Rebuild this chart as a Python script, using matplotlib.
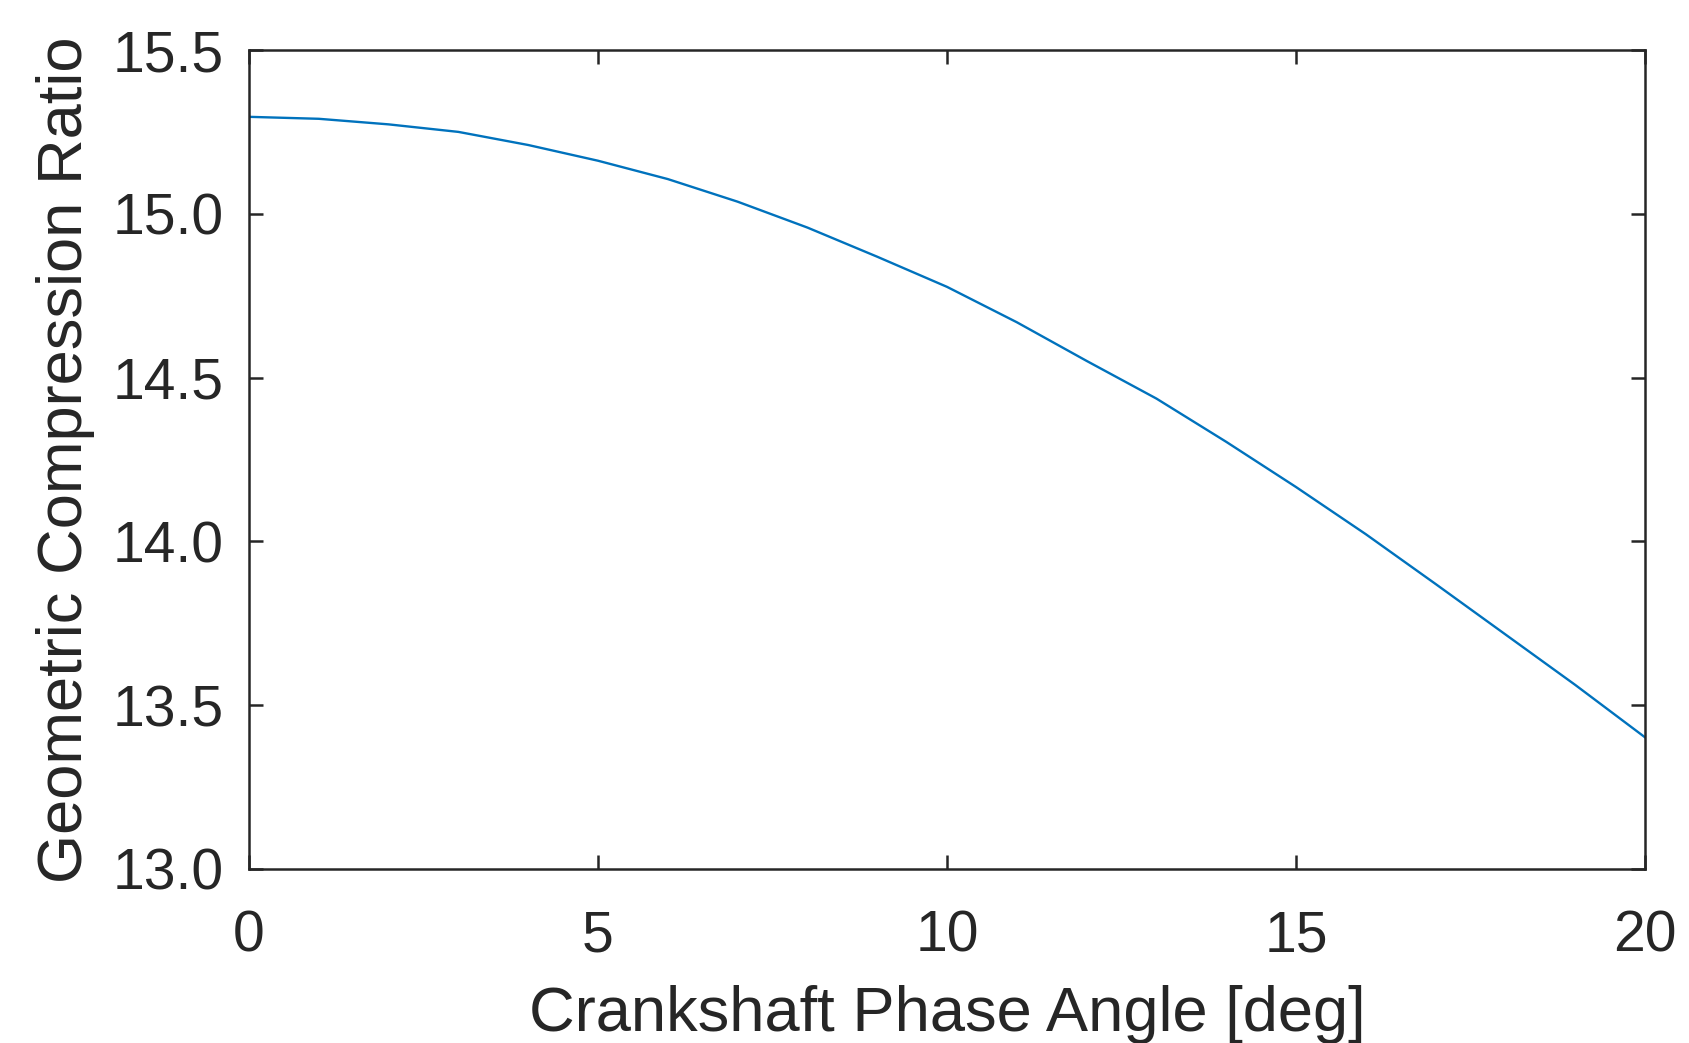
import matplotlib
matplotlib.use("Agg")
import matplotlib.pyplot as plt

# Crankshaft phase angle [deg] and resulting geometric compression ratio
phase_angle = [0, 1, 2, 3, 4, 5, 6, 7, 8, 9, 10,
               11, 12, 13, 14, 15, 16, 17, 18, 19, 20]
compression_ratio = [15.296, 15.290, 15.273, 15.250, 15.210, 15.162, 15.106,
                     15.037, 14.958, 14.869, 14.777, 14.669, 14.551, 14.436,
                     14.304, 14.166, 14.022, 13.870, 13.716, 13.562, 13.402]

x_ticks = [0, 5, 10, 15, 20]
y_ticks = [13.0, 13.5, 14.0, 14.5, 15.0, 15.5]

plt.rcParams["font.family"] = ["Liberation Sans", "DejaVu Sans"]
ink = "#262626"

fig = plt.figure(figsize=(16.89, 10.43), dpi=100)
ax = fig.add_axes([249 / 1689, 1 - 869 / 1043, 1396 / 1689, 819 / 1043])

ax.plot(phase_angle, compression_ratio, color="#0072BD", linewidth=1.7)

ax.set_xlim(0, 20)
ax.set_ylim(13.0, 15.5)
ax.set_xticks(x_ticks)
ax.set_xticklabels([str(t) for t in x_ticks])
ax.set_yticks(y_ticks)
ax.set_yticklabels([f"{t:.1f}" for t in y_ticks])

for side in ax.spines.values():
    side.set_linewidth(1.8)
    side.set_color(ink)

ax.tick_params(axis="both", which="both", direction="in", length=10,
               width=1.8, color=ink, labelcolor=ink, labelsize=41,
               top=True, right=True)
ax.tick_params(axis="x", pad=29)
ax.tick_params(axis="y", pad=18)

ax.set_xlabel("Crankshaft Phase Angle [deg]", fontsize=45.5, color=ink,
              labelpad=16)
ax.set_ylabel("Geometric Compression Ratio", fontsize=45.5, color=ink,
              labelpad=13)

fig.savefig("out.png", dpi=100, facecolor="white")
